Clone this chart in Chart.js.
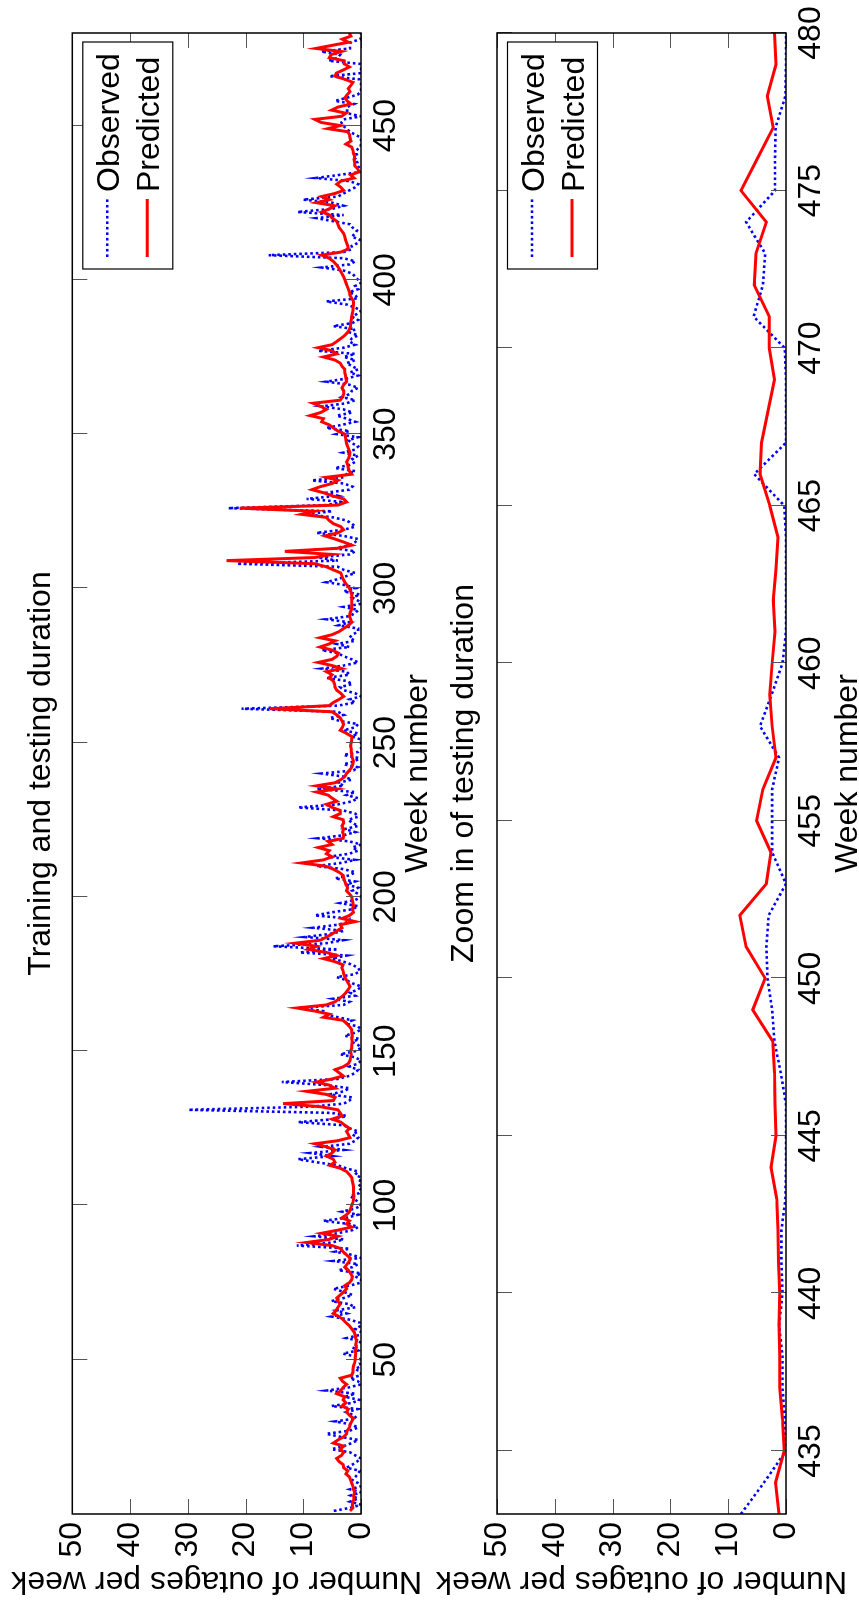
<!DOCTYPE html>
<html>
<head>
<meta charset="utf-8">
<title>Observed and predicted outages per week</title>
<script src="https://cdn.jsdelivr.net/npm/chart.js@4.4.1/dist/chart.umd.min.js"></script>
<style>
  html, body { margin: 0; padding: 0; width: 859px; height: 1600px; overflow: hidden; background: #fff; }
  /* the figure is laid out landscape and then turned a quarter turn to the left */
  #figure {
    position: absolute; left: 0; top: 0; width: 1600px; height: 880px;
    transform-origin: 0 0; transform: translate(0, 1600px) rotate(-90deg);
  }
  #figure canvas { position: absolute; left: 0; }
  #trainChart { top: 0; }
  #zoomChart { top: 420px; }
</style>
</head>
<body>
<div id="figure">
  <canvas id="trainChart" width="1600" height="460"></canvas>
  <canvas id="zoomChart" width="1600" height="460"></canvas>
</div>
<script>
// Week numbers start at 1, one value per week
const firstWeek = 1;

// Observed outages per week (weeks 1-480)
const observed = [
  4.7, 1.9, 0, 1.9, 0.5, 1.8, 0, 1.9, 0, 0.5,
  1.5, 1.0, 0.5, 0.2, 2.5, 1.5, 0.7, 0, 1.0, 1.9,
  5.1, 3.0, 1.6, 0.5, 3.5, 6.0, 2.0, 0.5, 1.6, 4.5,
  0.8, 1.2, 2.5, 0.6, 5.1, 1.5, 0.3, 2.8, 1.0, 6.0,
  2.2, 0, 0.5, 1.9, 0, 0, 1.0, 0, 0.2, 0,
  1.0, 3.1, 0.5, 1.5, 0.5, 0, 2.5, 0.3, 0, 1.0,
  0, 0.2, 2.0, 5.1, 2.5, 4.2, 1.0, 2.0, 5.1, 3.0,
  1.5, 3.0, 4.8, 2.0, 0, 0, 1.0, 0, 3.9, 1.5,
  0.5, 4.8, 0, 1.5, 4.5, 2.0, 11.1, 5.0, 3.0, 8.1,
  4.0, 1.5, 0.5, 2.0, 6.5, 2.5, 0.5, 3.3, 1.0, 0,
  0.5, 1.0, 1.9, 0.3, 0, 0.5, 0, 0.2, 0, 1.0,
  0.5, 2.5, 4.0, 7.7, 10.9, 5.0, 8.8, 3.0, 6.8, 2.0,
  1.0, 0.5, 1.5, 0.5, 2.0, 3.0, 10.9, 4.5, 2.5, 5.0,
  29.9, 8.8, 3.0, 2.0, 1.5, 5.4, 3.0, 2.0, 6.0, 13.7,
  4.0, 2.0, 1.0, 0.5, 2.0, 0.5, 0, 1.0, 3.6, 1.0,
  0, 0.5, 1.5, 0.3, 2.8, 1.0, 0, 0.5, 2.8, 1.5,
  4.0, 6.2, 6.5, 10.9, 3.0, 2.0, 4.8, 1.0, 1.9, 0.5,
  0, 1.5, 2.5, 4.2, 1.0, 0.2, 0.5, 1.5, 3.0, 5.0,
  2.5, 10.6, 4.0, 15.2, 6.0, 3.0, 9.7, 5.4, 3.0, 8.3,
  4.0, 2.0, 2.0, 8.0, 5.1, 1.5, 0.5, 3.6, 1.0, 0,
  0.5, 1.5, 0.5, 2.5, 1.0, 4.5, 2.0, 1.0, 3.0, 7.7,
  3.5, 1.0, 5.7, 2.0, 0.5, 1.5, 0, 2.0, 7.4, 3.0,
  1.0, 2.8, 0.5, 1.5, 2.2, 0.5, 1.0, 3.0, 10.9, 4.0,
  1.5, 0.5, 2.5, 1.0, 7.7, 3.0, 4.0, 1.6, 3.0, 6.8,
  1.3, 0.5, 3.0, 1.0, 0.3, 3.0, 0.5, 0, 0, 0,
  0, 1.6, 0.5, 3.0, 1.0, 0.5, 3.6, 5.4, 3.0, 4.0,
  20.7, 4.0, 1.0, 2.0, 0, 1.0, 3.0, 3.6, 1.5, 2.5,
  6.0, 2.0, 2.5, 6.8, 3.0, 0.5, 1.6, 3.0, 4.0, 6.8,
  2.0, 4.2, 1.0, 2.0, 1.5, 0.5, 0.5, 3.9, 2.0, 6.0,
  2.0, 1.0, 0.5, 3.0, 0, 0.5, 1.5, 0.2, 3.0, 1.0,
  2.5, 6.0, 4.0, 2.5, 1.0, 3.0, 4.0, 21.5, 4.0, 7.4,
  2.0, 1.0, 4.5, 2.0, 1.0, 0.5, 3.0, 7.7, 3.0, 1.0,
  1.6, 2.5, 4.8, 9.4, 5.0, 23.0, 6.0, 3.0, 9.4, 4.0,
  6.0, 2.0, 1.5, 3.0, 8.5, 3.0, 2.5, 1.0, 4.5, 2.0,
  1.0, 1.5, 0.5, 3.1, 1.0, 0.5, 1.5, 2.2, 0.5, 4.2,
  2.0, 6.0, 3.3, 1.0, 2.5, 4.2, 1.5, 3.0, 6.8, 2.5,
  1.0, 3.3, 1.9, 1.6, 0.5, 2.0, 6.0, 2.5, 0.5, 1.9,
  0.5, 1.5, 2.5, 1.0, 3.0, 1.0, 7.4, 3.0, 1.0, 2.0,
  1.6, 0.5, 2.0, 1.0, 4.8, 1.5, 0.5, 1.5, 0.7, 0,
  1.0, 2.5, 6.0, 0.5, 1.0, 2.0, 0.5, 1.0, 0, 0.5,
  1.0, 1.5, 3.0, 6.8, 2.0, 1.0, 3.0, 16.0, 3.0, 1.5,
  1.6, 0.5, 0.2, 1.6, 1.0, 0.7, 1.5, 1.9, 4.8, 7.7,
  3.0, 11.0, 5.0, 3.0, 5.0, 10.0, 4.0, 3.0, 2.0, 1.0,
  0.5, 2.0, 7.8, 3.8, 0, 0.2, 0.6, 0.6, 1.2, 0.6,
  0.8, 0.8, 0.1, 0, 0, 0, 0.9, 2.0, 2.4, 3.2,
  3.4, 3.0, 0, 2.4, 2.4, 2.4, 1.2, 4.5, 2.5, 0.6,
  0, 0, 0, 0, 0.3, 5.5, 0, 0, 0, 0.2,
  5.6, 4.0, 3.6, 6.9, 1.9, 1.9, 1.8, 0.1, 0, 0
];

// Predicted outages per week (weeks 1-480)
const predicted = [
  1.9, 1.4, 1.5, 1.4, 1.2, 1.3, 1.1, 1.3, 1.4, 1.6,
  1.8, 2.0, 2.6, 2.3, 3.0, 3.1, 3.8, 4.2, 3.4, 3.0,
  3.6, 3.0, 4.8, 4.0, 3.0, 2.5, 2.4, 2.0, 1.9, 1.6,
  1.3, 2.0, 2.5, 2.2, 3.3, 2.6, 3.1, 2.8, 4.2, 3.5,
  3.1, 2.5, 3.2, 3.6, 1.6, 1.4, 1.4, 1.3, 1.1, 1.0,
  1.0, 0.9, 1.0, 0.8, 0.9, 0.8, 0.9, 1.0, 1.2, 1.6,
  2.0, 2.6, 3.1, 3.8, 4.8, 4.3, 4.0, 3.6, 4.0, 4.2,
  3.6, 3.0, 2.5, 2.8, 2.0, 1.6, 1.5, 1.8, 2.2, 2.8,
  2.4, 2.0, 1.9, 2.5, 3.1, 3.5, 5.0, 9.4, 5.5, 4.0,
  6.8, 4.0, 1.6, 2.5, 2.0, 3.3, 2.5, 2.0, 1.8, 1.6,
  1.4, 1.3, 1.2, 1.3, 1.3, 1.3, 1.4, 1.5, 1.6, 2.0,
  2.5, 3.5, 5.4, 4.5, 4.8, 6.0, 5.0, 4.5, 6.0, 8.0,
  4.0, 1.9, 2.2, 2.5, 2.0, 2.8, 3.5, 5.0, 3.3, 3.6,
  4.0, 7.0, 13.5, 4.8, 4.5, 6.0, 9.4, 4.5, 5.5, 7.7,
  5.0, 3.1, 3.8, 4.5, 3.0, 2.2, 1.9, 1.8, 1.7, 1.8,
  1.6, 1.6, 1.5, 1.6, 1.5, 1.6, 1.6, 2.0, 2.5, 3.1,
  6.5, 5.5, 8.0, 11.1, 6.0, 4.5, 3.8, 3.1, 2.6, 2.2,
  1.9, 2.2, 2.5, 2.8, 3.0, 3.1, 3.3, 3.1, 4.5, 6.5,
  4.2, 6.0, 9.1, 7.7, 11.4, 7.0, 6.0, 5.0, 4.2, 3.3,
  3.6, 1.0, 3.3, 2.0, 1.3, 1.5, 1.3, 1.4, 1.5, 1.6,
  2.0, 2.5, 2.3, 2.6, 2.8, 3.0, 3.1, 3.8, 4.8, 6.2,
  10.3, 6.5, 5.0, 6.0, 5.5, 7.4, 5.0, 5.7, 3.1, 3.0,
  3.2, 3.0, 3.3, 3.0, 3.1, 4.8, 3.6, 3.6, 5.0, 6.0,
  4.2, 5.0, 5.7, 7.7, 4.2, 7.7, 4.5, 3.5, 2.8, 2.5,
  2.0, 1.6, 1.4, 1.3, 1.5, 1.6, 1.7, 1.7, 1.8, 1.7,
  1.6, 1.6, 2.5, 3.6, 3.2, 3.0, 3.3, 3.6, 4.2, 5.0,
  15.8, 5.5, 4.8, 3.8, 3.0, 3.5, 4.2, 4.5, 4.6, 4.8,
  5.5, 5.0, 6.0, 3.3, 5.0, 7.4, 5.0, 4.2, 3.9, 5.0,
  7.1, 5.5, 4.5, 7.1, 5.0, 3.8, 3.0, 2.2, 1.6, 1.8,
  2.0, 1.9, 1.7, 1.6, 1.6, 1.6, 1.6, 1.6, 1.8, 2.0,
  2.4, 2.8, 3.1, 3.3, 3.5, 4.8, 6.0, 8.0, 23.3, 8.0,
  5.0, 13.2, 4.0, 1.6, 3.0, 4.5, 6.2, 4.0, 3.0, 3.5,
  4.8, 5.5, 6.0, 10.3, 8.0, 21.0, 4.0, 2.5, 3.0, 5.0,
  6.5, 8.5, 7.0, 5.0, 4.0, 6.0, 1.6, 2.0, 2.2, 2.3,
  2.5, 2.2, 2.0, 1.9, 2.1, 2.3, 2.5, 2.6, 2.7, 2.8,
  4.0, 4.8, 5.5, 6.8, 6.5, 8.8, 7.0, 6.0, 7.0, 8.3,
  3.6, 3.2, 3.0, 3.0, 3.3, 3.0, 2.5, 2.6, 2.7, 2.8,
  2.8, 3.3, 3.6, 4.5, 6.5, 4.2, 5.0, 7.4, 5.0, 4.2,
  3.5, 2.8, 2.3, 2.0, 1.8, 1.8, 1.7, 1.6, 1.5, 1.4,
  1.4, 1.3, 1.3, 1.6, 1.9, 2.0, 2.2, 2.4, 2.6, 2.8,
  3.0, 3.3, 3.6, 3.9, 4.3, 4.8, 5.5, 6.8, 3.5, 2.2,
  2.3, 2.5, 2.7, 2.8, 3.0, 3.4, 3.8, 4.0, 4.2, 5.0,
  5.4, 6.8, 5.5, 4.5, 7.7, 5.5, 6.8, 4.5, 3.0, 3.5,
  4.2, 3.5, 1.2, 1.8, 0.3, 0.6, 1.1, 1.1, 1.2, 1.1,
  1.3, 1.4, 1.6, 2.6, 1.75, 1.9, 2.0, 2.3, 5.75, 3.6,
  6.9, 8.0, 3.4, 2.6, 5.1, 4.0, 1.75, 2.4, 2.8, 2.4,
  1.9, 2.2, 1.75, 1.4, 2.8, 4.5, 4.25, 3.1, 2.0, 2.9,
  2.9, 5.5, 5.2, 3.4, 7.8, 5.0, 2.2, 3.25, 1.75, 2.0
];

// Axis ranges and tick labels
const trainRange = [0, 480];
const zoomRange = [433, 480];
const trainWeekTicks = [50, 100, 150, 200, 250, 300, 350, 400, 450];
const zoomWeekTicks = [435, 440, 445, 450, 455, 460, 465, 470, 475, 480];
const valueTicks = [0, 10, 20, 30, 40, 50];

const FONT_FAMILY = '"Liberation Sans", Arial, Helvetica, sans-serif';
const FONT_SIZE = 32;
const TICK_LEN = 15;

function toPoints(values, fromWeek) {
  return values
    .map((v, i) => ({ x: firstWeek + i, y: v }))
    .filter(p => p.x >= fromWeek);
}

// MATLAB style box: inward ticks on all four sides plus legend box
const matlabAxes = {
  id: 'matlabAxes',
  afterDatasetsDraw(chart, args, opts) {
    const { ctx, chartArea: a, scales: { x, y } } = chart;
    ctx.save();

    ctx.strokeStyle = '#555';
    ctx.lineWidth = 1;
    ctx.beginPath();
    opts.weekTicks.forEach(v => {
      const px = Math.round(x.getPixelForValue(v)) + 0.5;
      ctx.moveTo(px, a.bottom); ctx.lineTo(px, a.bottom - TICK_LEN);
      ctx.moveTo(px, a.top); ctx.lineTo(px, a.top + TICK_LEN);
    });
    valueTicks.forEach(v => {
      const py = Math.round(y.getPixelForValue(v)) + 0.5;
      ctx.moveTo(a.left, py); ctx.lineTo(a.left + TICK_LEN, py);
      ctx.moveTo(a.right, py); ctx.lineTo(a.right - TICK_LEN, py);
    });
    ctx.stroke();

    ctx.strokeStyle = '#000';
    ctx.lineWidth = 1.5;
    ctx.strokeRect(a.left, a.top, a.right - a.left, a.bottom - a.top);

    // legend
    const boxW = 227, boxH = 90;
    const bx = a.right - 9 - boxW;
    const by = a.top + 10.5;
    ctx.fillStyle = '#fff';
    ctx.fillRect(bx, by, boxW, boxH);
    ctx.lineWidth = 1.2;
    ctx.strokeStyle = '#000';
    ctx.strokeRect(bx, by, boxW, boxH);

    ctx.font = FONT_SIZE + 'px ' + FONT_FAMILY;
    ctx.textBaseline = 'alphabetic';
    ctx.textAlign = 'left';
    chart.data.datasets.forEach((ds, i) => {
      const rowY = by + 24.5 + i * 40;
      ctx.save();
      ctx.strokeStyle = ds.borderColor;
      ctx.lineWidth = ds.borderWidth;
      ctx.setLineDash(ds.borderDash || []);
      ctx.beginPath();
      ctx.moveTo(bx + 12, rowY);
      ctx.lineTo(bx + 70, rowY);
      ctx.stroke();
      ctx.restore();
      ctx.fillStyle = '#000';
      ctx.fillText(ds.label, bx + 77, rowY + 11.5);
    });

    ctx.restore();
  }
};

function makeChart(canvasId, cfg) {
  const font = { family: FONT_FAMILY, size: FONT_SIZE };
  return new Chart(document.getElementById(canvasId), {
    type: 'line',
    data: {
      datasets: [
        {
          label: 'Observed',
          data: toPoints(observed, cfg.range[0]),
          borderColor: '#0000ff',
          borderWidth: 2.6,
          borderDash: [2.6, 2.9],
          pointRadius: 0,
          tension: 0,
          order: 2
        },
        {
          label: 'Predicted',
          data: toPoints(predicted, cfg.range[0]),
          borderColor: '#ff0000',
          borderWidth: 3,
          pointRadius: 0,
          tension: 0,
          order: 1
        }
      ]
    },
    options: {
      responsive: false,
      animation: false,
      devicePixelRatio: 1,
      events: [],
      layout: { padding: { left: 0, right: 33, top: 0, bottom: 0 } },
      plugins: {
        legend: { display: false },
        tooltip: { enabled: false },
        title: {
          display: true,
          text: cfg.title,
          color: '#000',
          fullSize: false,
          font: { family: FONT_FAMILY, size: FONT_SIZE, weight: 'normal' },
          padding: cfg.titlePadding
        },
        matlabAxes: { weekTicks: cfg.weekTicks }
      },
      scales: {
        x: {
          type: 'linear',
          min: cfg.range[0],
          max: cfg.range[1],
          afterBuildTicks: s => { s.ticks = cfg.weekTicks.map(v => ({ value: v })); },
          afterFit: s => { s.height = cfg.xAxisHeight; },
          grid: { display: false, drawTicks: false, tickLength: 0 },
          border: { display: false },
          ticks: { color: '#000', font, padding: 6, maxRotation: 0, autoSkip: false },
          title: {
            display: true,
            text: 'Week number',
            color: '#000',
            font,
            padding: { top: 0, bottom: cfg.xTitlePad }
          }
        },
        y: {
          min: 0,
          max: 50,
          afterBuildTicks: s => { s.ticks = valueTicks.map(v => ({ value: v })); },
          afterFit: s => { s.width = 86; },
          grid: { display: false, drawTicks: false, tickLength: 0 },
          border: { display: false },
          ticks: { color: '#000', font, padding: 8 },
          title: {
            display: true,
            text: 'Number of outages per week',
            color: '#000',
            font,
            padding: { top: 0, bottom: 0 }
          }
        }
      }
    },
    plugins: [matlabAxes]
  });
}

makeChart('trainChart', {
  title: 'Training and testing duration',
  range: trainRange,
  weekTicks: trainWeekTicks,
  titlePadding: { top: 21.8, bottom: 12.1 },
  xAxisHeight: 99,
  xTitlePad: 22.8
});

makeChart('zoomChart', {
  title: 'Zoom in of testing duration',
  range: zoomRange,
  weekTicks: zoomWeekTicks,
  titlePadding: { top: 24.8, bottom: 13.8 },
  xAxisHeight: 94,
  xTitlePad: 12.8
});
</script>
</body>
</html>
